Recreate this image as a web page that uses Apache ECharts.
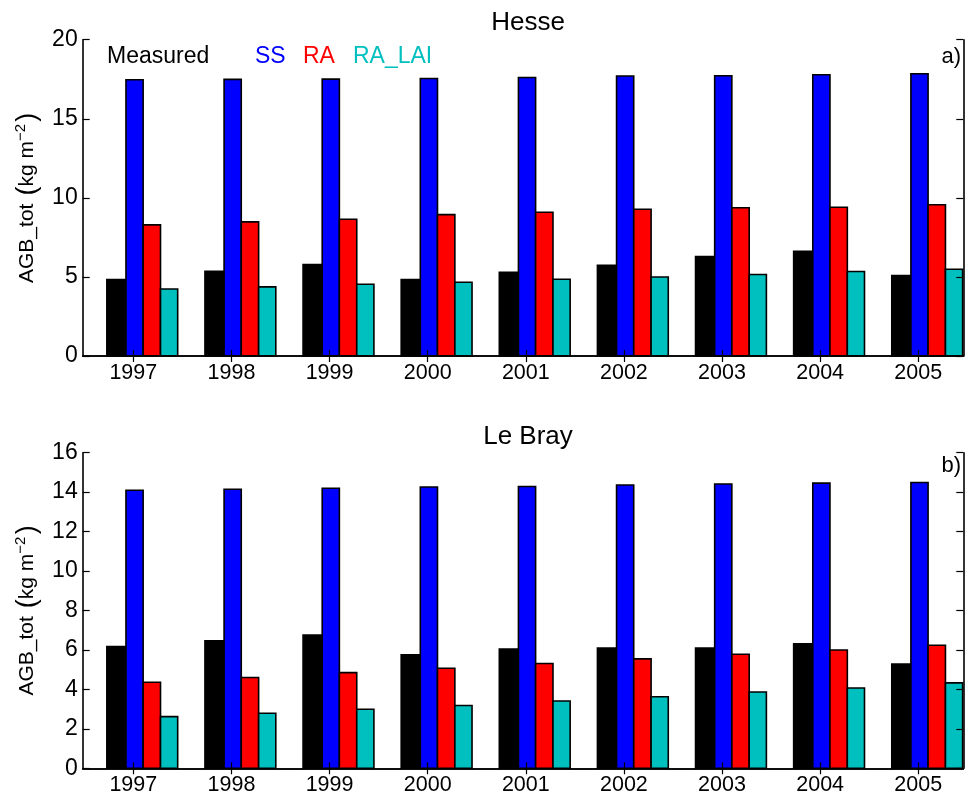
<!DOCTYPE html>
<html>
<head>
<meta charset="utf-8">
<script src="https://cdn.jsdelivr.net/npm/echarts@6/dist/echarts.min.js"></script>
<style>
  html, body { margin: 0; padding: 0; background: #fff; }
  #chart { width: 969px; height: 799px; }
</style>
</head>
<body>
<div id="chart"></div>
<script>
// Years on the x axis
const years = [1997, 1998, 1999, 2000, 2001, 2002, 2003, 2004, 2005];

// Hesse, above-ground biomass (kg m-2)
const hesseMeasured = [4.83, 5.36, 5.78, 4.83, 5.30, 5.74, 6.29, 6.62, 5.08];
const hesseSS       = [17.47, 17.49, 17.51, 17.55, 17.61, 17.70, 17.72, 17.78, 17.85];
const hesseRA       = [8.29, 8.48, 8.65, 8.94, 9.09, 9.28, 9.37, 9.41, 9.56];
const hesseRALAI    = [4.24, 4.37, 4.54, 4.66, 4.85, 5.00, 5.15, 5.34, 5.49];

// Le Bray, above-ground biomass (kg m-2)
const lebrayMeasured = [6.17, 6.46, 6.75, 5.75, 6.05, 6.10, 6.10, 6.31, 5.29];
const lebraySS       = [14.10, 14.15, 14.20, 14.26, 14.29, 14.36, 14.41, 14.46, 14.49];
const lebrayRA       = [4.36, 4.60, 4.85, 5.07, 5.31, 5.55, 5.78, 6.00, 6.24];
const lebrayRALAI    = [2.62, 2.79, 2.99, 3.18, 3.41, 3.63, 3.87, 4.07, 4.33];

// Y tick values
const hesseTicks = [0, 5, 10, 15, 20];
const lebrayTicks = [0, 2, 4, 6, 8, 10, 12, 14, 16];

const seriesNames = ['Measured', 'SS', 'RA', 'RA_LAI'];
const seriesColors = ['#000000', '#0000ff', '#ff0000', '#00bfbf'];
// bar start offset (in years, relative to the tick) and width for each series
const barStart = [-0.27, -0.075, 0.10, 0.277];
const barWidth = [0.195, 0.175, 0.177, 0.175];

const X_MIN = 1996.484, X_MAX = 2005.459;
const FONT = 'Liberation Sans, Arial, Helvetica, sans-serif';

const chart = echarts.init(document.getElementById('chart'), null, { renderer: 'canvas' });

function barRenderer(k) {
  return function (params, api) {
    const x = api.value(0), v = api.value(1);
    const p0 = api.coord([x + barStart[k], v]);
    const p1 = api.coord([x + barStart[k] + barWidth[k], 0]);
    return {
      type: 'rect',
      shape: { x: p0[0], y: p0[1], width: p1[0] - p0[0], height: p1[1] - p0[1] },
      style: { fill: seriesColors[k], stroke: '#000', lineWidth: 1.6 }
    };
  };
}

function makeSeries(gridIdx, lists) {
  return lists.map((vals, k) => ({
    type: 'custom',
    name: seriesNames[k],
    xAxisIndex: gridIdx * 2,
    yAxisIndex: gridIdx * 2,
    z: 2,
    renderItem: barRenderer(k),
    data: years.map((y, i) => [y, vals[i]])
  }));
}

const lineStyle = { color: '#000', width: 1.6 };
const tickStyle = { color: '#000', width: 1.2 };

function xAxes(gridIdx) {
  return [
    {
      type: 'value', gridIndex: gridIdx, position: 'bottom', min: X_MIN, max: X_MAX, z: 5,
      axisLine: { show: true, lineStyle }, splitLine: { show: false },
      axisTick: { show: true, inside: true, length: 6, customValues: years, lineStyle: tickStyle },
      axisLabel: { show: true, customValues: years, formatter: v => String(v), margin: 6,
        color: '#000', fontSize: 21.5, fontFamily: FONT }
    },
    {
      type: 'value', gridIndex: gridIdx, position: 'top', min: X_MIN, max: X_MAX, z: 5,
      axisLine: { show: true, lineStyle }, splitLine: { show: false },
      axisTick: { show: true, inside: true, length: 6, customValues: years, lineStyle: tickStyle },
      axisLabel: { show: false }
    }
  ];
}

const yName = 'AGB_tot {sp| }{p|(}{t|kg m}{s|−2}{sp| }{p|)}';
const yNameStyle = {
  color: '#000', fontSize: 21, fontFamily: FONT,
  rich: {
    p: { fontSize: 27, fontFamily: FONT, color: '#000' },
    t: { fontSize: 21, fontFamily: FONT, color: '#000' },
    sp: { fontSize: 8, fontFamily: FONT },
    s: { fontSize: 15, fontFamily: FONT, color: '#000', verticalAlign: 'top', padding: [0, 0, 12, 0] }
  }
};

function yAxes(gridIdx, ticks) {
  const min = ticks[0], max = ticks[ticks.length - 1], interval = ticks[1] - ticks[0];
  return [
    {
      type: 'value', gridIndex: gridIdx, position: 'left', min, max, interval, z: 5,
      name: yName, nameLocation: 'middle', nameRotate: 90, nameGap: 42, nameTextStyle: yNameStyle,
      axisLine: { show: true, lineStyle }, splitLine: { show: false },
      axisTick: { show: true, inside: true, length: 7, lineStyle: tickStyle },
      axisLabel: { show: true, margin: 5, color: '#000', fontSize: 23, fontFamily: FONT }
    },
    {
      type: 'value', gridIndex: gridIdx, position: 'right', min, max, interval, z: 5,
      axisLine: { show: true, lineStyle }, splitLine: { show: false },
      axisTick: { show: true, inside: true, length: 7, lineStyle: tickStyle },
      axisLabel: { show: false }
    }
  ];
}

const legendTexts = [
  { text: 'Measured', x: 107, color: seriesColors[0] },
  { text: 'SS', x: 255, color: seriesColors[1] },
  { text: 'RA', x: 303, color: seriesColors[2] },
  { text: 'RA_LAI', x: 353, color: seriesColors[3] }
];

const option = {
  backgroundColor: '#fff',
  animation: false,
  title: [
    { text: 'Hesse', left: 528, top: 10, textAlign: 'center', padding: 0,
      textStyle: { fontSize: 26, fontWeight: 'normal', color: '#000', fontFamily: FONT } },
    { text: 'Le Bray', left: 528, top: 424, textAlign: 'center', padding: 0,
      textStyle: { fontSize: 26, fontWeight: 'normal', color: '#000', fontFamily: FONT } }
  ],
  grid: [
    { left: 82.7, right: 5.7, top: 39.7, height: 316.3 },
    { left: 82.7, right: 5.7, top: 452.7, height: 315.6 }
  ],
  xAxis: [...xAxes(0), ...xAxes(1)],
  yAxis: [...yAxes(0, hesseTicks), ...yAxes(1, lebrayTicks)],
  graphic: [
    ...legendTexts.map(t => ({
      type: 'text', left: t.x, top: 45, z: 10,
      style: { text: t.text, fill: t.color, fontSize: 23, fontFamily: FONT }
    })),
    { type: 'text', right: 8, top: 46, z: 10,
      style: { text: 'a)', fill: '#000', fontSize: 22, fontFamily: FONT } },
    { type: 'text', right: 8, top: 455, z: 10,
      style: { text: 'b)', fill: '#000', fontSize: 22, fontFamily: FONT } }
  ],
  series: [
    ...makeSeries(0, [hesseMeasured, hesseSS, hesseRA, hesseRALAI]),
    ...makeSeries(1, [lebrayMeasured, lebraySS, lebrayRA, lebrayRALAI])
  ]
};

chart.setOption(option);
</script>
</body>
</html>
